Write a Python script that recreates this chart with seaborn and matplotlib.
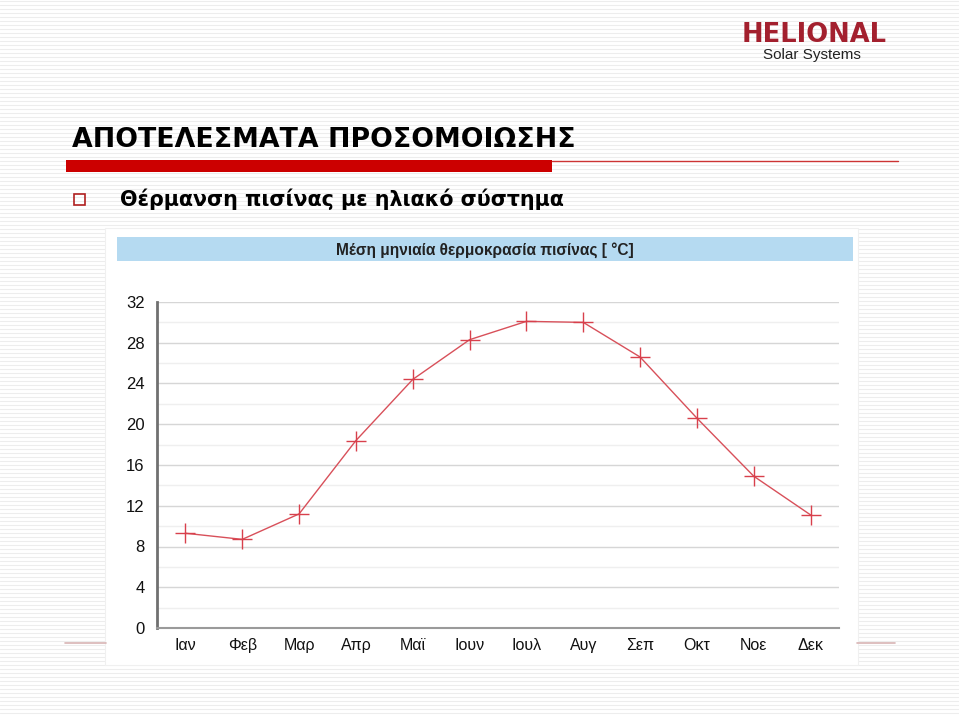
import numpy as np
import pandas as pd
import matplotlib
matplotlib.use("Agg")
import matplotlib.pyplot as plt
from matplotlib.patches import Rectangle
import seaborn as sns

months = ["Ιαν", "Φεβ", "Μαρ", "Απρ", "Μαϊ", "Ιουν", "Ιουλ", "Αυγ", "Σεπ", "Οκτ", "Νοε", "Δεκ"]
temps = [9.3, 8.7, 11.2, 18.4, 24.4, 28.3, 30.1, 30.0, 26.6, 20.6, 14.9, 11.1]
yticks = [0, 4, 8, 12, 16, 20, 24, 28, 32]

slide_title = "ΑΠΟΤΕΛΕΣΜΑΤΑ ΠΡΟΣΟΜΟΙΩΣΗΣ"
bullet_text = "Θέρμανση πισίνας με ηλιακό σύστημα"
chart_title = "Μέση μηνιαία θερμοκρασία πισίνας [ °C]"

sns.set_theme(style="white")
plt.rcParams['font.family'] = ['DejaVu Sans']

W, H = 959, 717
fig = plt.figure(figsize=(W / 100, H / 100), dpi=100)
fig.patch.set_facecolor("white")

# background slide with faint stripes
bg = fig.add_axes([0, 0, 1, 1])
bg.set_xlim(0, W)
bg.set_ylim(H, 0)
bg.axis("off")
for yy in np.arange(1, H, 4):
    bg.plot([0, W], [yy, yy], color="#ededed", lw=0.8, zorder=0)

# title
bg.text(72, 147, slide_title, fontsize=19.3, fontweight="bold", color="black",
        ha="left", va="baseline", family="DejaVu Sans", zorder=3)
# red bar + thin line
bg.add_patch(Rectangle((66, 160), 486, 12, color="#cc0000", zorder=3, lw=0))
bg.plot([552, 898], [161, 161], color="#cc3333", lw=1.0, zorder=3)
# bullet
bg.add_patch(Rectangle((74, 194), 11, 11, fill=False, edgecolor="#b02020", lw=1.2, zorder=3))
bg.text(120, 206, bullet_text, fontsize=14.9, fontweight="bold", color="black",
        ha="left", va="baseline", family="DejaVu Sans", zorder=3)

# logo
bg.text(742, 42, "HELIONAL", fontsize=18.5, fontweight="bold", color="#a3202e",
        ha="left", va="baseline", family="DejaVu Sans", zorder=3)
bg.text(763, 59, "Solar Systems", fontsize=11, color="#222222",
        ha="left", va="baseline", family="Liberation Sans", zorder=3)

# footer lines
bg.plot([65, 106], [643, 643], color="#d8b4b4", lw=1.2, zorder=3)
bg.plot([857, 895], [643, 643], color="#d8b4b4", lw=1.2, zorder=3)

# white chart image box
bg.add_patch(Rectangle((105, 228), 753, 437, facecolor="white", edgecolor="#f0f0f0", lw=0.8, zorder=2))
# blue header band
bg.add_patch(Rectangle((117, 237), 736, 24, facecolor="#b5daf1", edgecolor="none", zorder=3))
bg.text(485, 250, chart_title, fontsize=11.2, fontweight="bold", color="#222222",
        ha="center", va="center", family="Liberation Sans", zorder=4)

# chart axes
ax = fig.add_axes([157 / W, 1 - 628 / H, (839 - 157) / W, (628 - 302) / H])
ax.set_facecolor("none")
df = pd.DataFrame({"month": months, "temp": temps})
sns.lineplot(data=df, x="month", y="temp", ax=ax, sort=False, color="#d8505a",
             lw=1.0, marker="+", markersize=15, markeredgewidth=1.0,
             markeredgecolor="#d8404c", zorder=5)
ax.set_xlim(-0.5, len(months) - 0.5)
ax.set_ylim(0, 32)
ax.set_xlabel("")
ax.set_ylabel("")

ax.set_yticks(yticks)
ax.set_yticks([y + 2 for y in yticks[:-1]], minor=True)
ax.yaxis.grid(True, which="major", color="#d6d6d6", lw=1.0)
ax.yaxis.grid(True, which="minor", color="#efefef", lw=1.0)
ax.set_axisbelow(True)
ax.tick_params(axis="y", which="both", length=0, pad=9, labelsize=12, labelcolor="#111111")

ax.set_xticks(range(len(months)))
ax.set_xticklabels(months)
ax.set_xticks(np.arange(-0.5, len(months), 1.0), minor=True)
ax.tick_params(axis="x", which="major", length=0, pad=7, labelsize=11.5, labelcolor="#111111")
ax.tick_params(axis="x", which="minor", length=6, direction="inout", color="#d0d0d0", width=0.8)
ax.xaxis.grid(False)
for lab in ax.get_yticklabels() + ax.get_xticklabels():
    lab.set_family("Liberation Sans")

for s in ["top", "right"]:
    ax.spines[s].set_visible(False)
ax.spines["left"].set_color("#707070")
ax.spines["left"].set_linewidth(2.0)
ax.spines["bottom"].set_color("#9a9a9a")
ax.spines["bottom"].set_linewidth(1.5)

fig.savefig("out.png", dpi=100, facecolor="white")
